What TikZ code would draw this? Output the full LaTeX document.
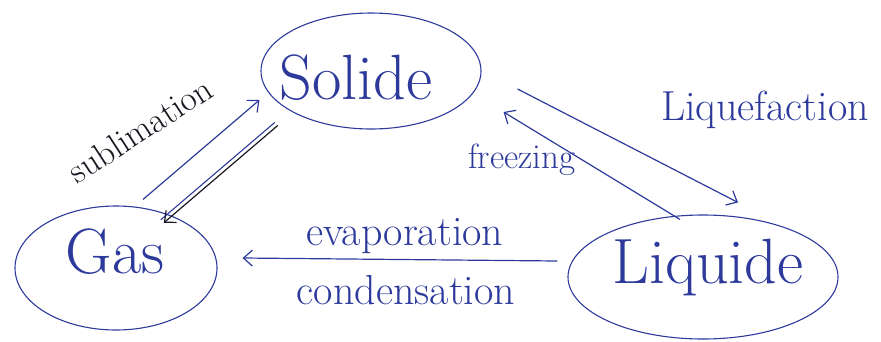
\documentclass[tikz,border=0pt]{standalone}
\usetikzlibrary{shapes.geometric,arrows.meta,calc}
\definecolor{ink}{RGB}{45,58,156}
\definecolor{dark}{RGB}{25,25,35}
\begin{document}
\begin{tikzpicture}[x=1pt,y=-1pt,
  state/.style={draw=ink,line width=1.1pt,ellipse,inner sep=0pt},
  big/.style={text=ink,font=\fontsize{64}{66}\selectfont,inner sep=0pt},
  lab/.style={text=ink,font=\fontsize{42}{44}\selectfont,inner sep=0pt},
  arr/.style={draw=ink,line width=1.2pt,-{Straight Barb[length=9pt,width=16pt]}},
]
\useasboundingbox (0,0) rectangle (881,341);
\node[state,minimum width=220pt,minimum height=116pt] (sol) at (371,71) {};
\node[state,minimum width=202pt,minimum height=124pt] (gas) at (116,268) {};
\node[state,minimum width=270pt,minimum height=124pt] (liq) at (703,277) {};
\node[big] (tsol) at (356,78) {Solide};
\node[big] (tgas) at (115,252) {Gas};
\node[big] (tliq) at (708,268) {Liquide};
% sublimation
\draw[arr] ($(gas.north)+(27,-6)$) -- ($(sol.west)+(-1,29)$);
\node[lab,text=dark,font=\fontsize{35}{37}\selectfont,rotate=33] (tsub) at (140,130) {sublimation};
% solide -> gas (blue and black strokes)
\draw[draw=ink,line width=1.1pt] ($(sol.south west)+(-18,10)$) -- ($(gas.north east)+(-27,-4)$);
\draw[arr,draw=dark] ($(sol.south west)+(-15,13)$) -- ($(gas.north east)+(-24,-1)$);
% liquefaction
\draw[arr] ($(sol.east)+(36,18)$) -- ($(liq.north)+(35,-12)$);
\node[lab] (tliqf) at (765,110) {Liquefaction};
% freezing
\draw[arr] ($(liq.north)+(-23,5)$) -- ($(sol.east)+(22,41)$);
\node[lab,font=\fontsize{35}{37}\selectfont] (tfr) at (522,160) {freezing};
% evaporation / condensation
\draw[arr] ($(liq.west)+(-10,-16)$) -- ($(gas.east)+(25,-10)$);
\node[lab] (tev) at (405,236) {evaporation};
\node[lab] (tco) at (406,290) {condensation};
\end{tikzpicture}
\end{document}
